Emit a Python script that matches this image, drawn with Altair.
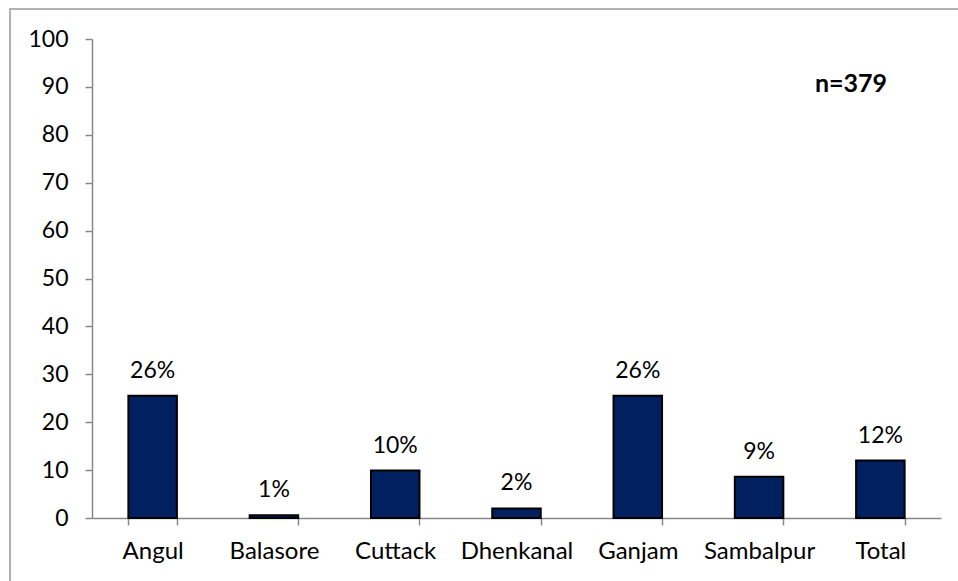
import altair as alt
import pandas as pd

categories = ["Angul", "Balasore", "Cuttack", "Dhenkanal", "Ganjam", "Sambalpur", "Total"]
values = [25.5, 0.6, 9.9, 2.0, 25.5, 8.6, 12.0]
labels = ["26%", "1%", "10%", "2%", "26%", "9%", "12%"]
note = "n=379"

df = pd.DataFrame({"cat": categories, "val": values, "lab": labels})

FONT = "Lato"
W, H = 849, 479

x = alt.X("cat:N", sort=categories, title=None,
          scale=alt.Scale(paddingInner=0.6, paddingOuter=0.3),
          axis=alt.Axis(labelAngle=0, labelFont=FONT, labelFontSize=24, labelColor="black",
                        labelPadding=14, tickBand="extent", tickSize=7, tickColor="#888888",
                        domainColor="#888888", tickWidth=1.5, domainWidth=1.5))
y = alt.Y("val:Q", title=None,
          scale=alt.Scale(domain=[0, 100], nice=False),
          axis=alt.Axis(values=list(range(0, 101, 10)), labelFont=FONT, labelFontSize=23,
                        labelColor="black", labelPadding=17, tickSize=7, tickColor="#888888",
                        domainColor="#888888", grid=False, tickWidth=1.5, domainWidth=1.5))

base = alt.Chart(df)
bars = base.mark_bar(color="#002060", stroke="black", strokeWidth=2).encode(x=x, y=y)
text = base.mark_text(font=FONT, fontSize=23, color="black", baseline="alphabetic", dy=-18).encode(
    x=alt.X("cat:N", sort=categories), y="val:Q", text="lab:N")
ndf = pd.DataFrame({"t": [note]})
ntext = alt.Chart(ndf).mark_text(font=FONT, fontSize=25, fontWeight="bold", color="black",
                                  baseline="middle", align="center").encode(
    x=alt.value(759), y=alt.value(45), text="t:N")
border = alt.Chart(ndf).mark_rect(fill=None, stroke="#999999", strokeWidth=1.5, clip=False).encode(
    x=alt.value(-82), x2=alt.value(880), y=alt.value(-30), y2=alt.value(560))

chart = alt.layer(border, bars, text, ntext).properties(
    width=W, height=H,
    background="white",
    autosize=alt.AutoSizeParams(type="none"),
    padding={"left": 92, "top": 39, "right": 17, "bottom": 63},
).configure_view(strokeWidth=0, stroke="transparent")

chart.save("out.html", embed_options={"renderer": "svg", "actions": False})
